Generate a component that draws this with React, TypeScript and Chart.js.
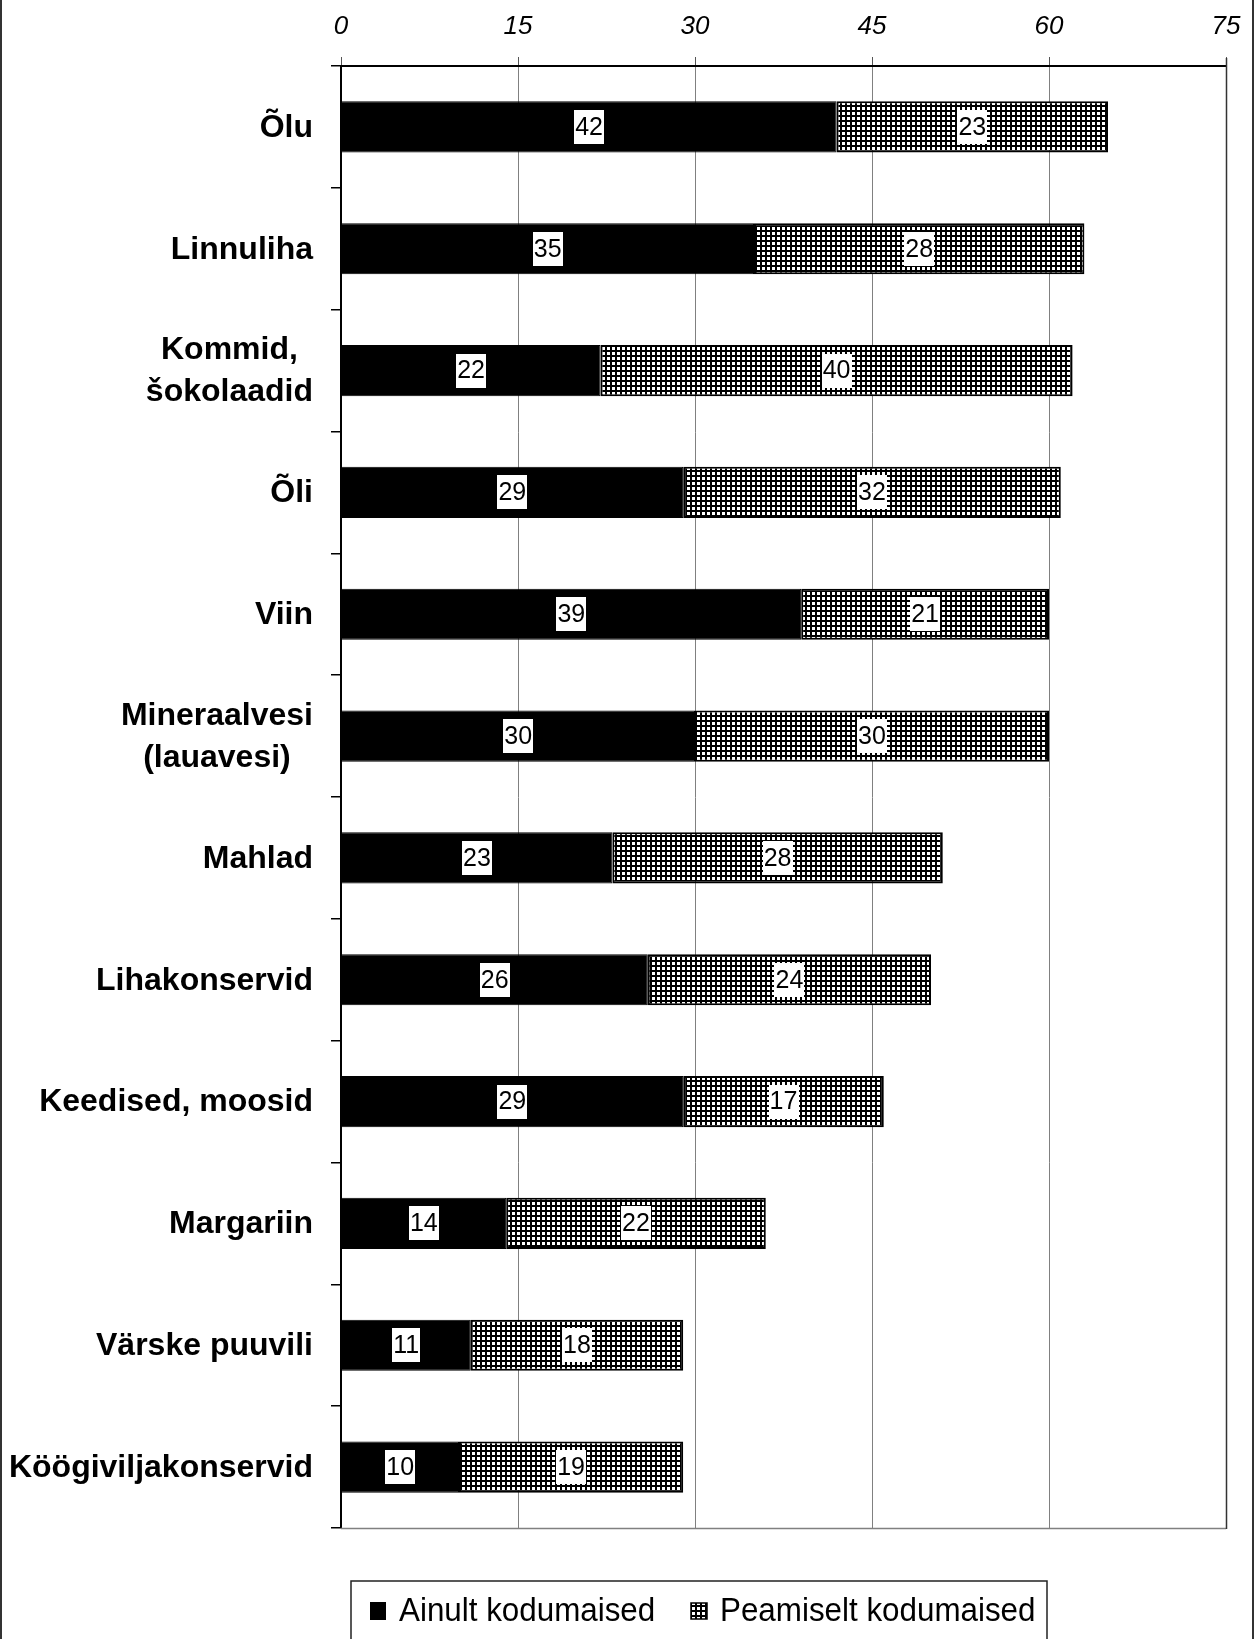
import React, { useEffect, useRef } from 'react';
import { Chart, registerables } from 'chart.js';

Chart.register(...registerables);

const categories: (string | string[])[] = [
  'Õlu',
  'Linnuliha',
  ['Kommid,', 'šokolaadid'],
  'Õli',
  'Viin',
  ['Mineraalvesi', '(lauavesi)'],
  'Mahlad',
  'Lihakonservid',
  'Keedised, moosid',
  'Margariin',
  'Värske puuvili',
  'Köögiviljakonservid',
];
const onlyDomestic = [42, 35, 22, 29, 39, 30, 23, 26, 29, 14, 11, 10];
const mainlyDomestic = [23, 28, 40, 32, 21, 30, 28, 24, 17, 22, 18, 19];
const seriesNames = ['Ainult kodumaised', 'Peamiselt kodumaised'];
const xTickValues = [0, 15, 30, 45, 60, 75];

const FONT = "'Liberation Sans', Arial, sans-serif";

function makePattern(ctx: CanvasRenderingContext2D): CanvasPattern | string {
  const c = document.createElement('canvas');
  c.width = 5;
  c.height = 5;
  const p = c.getContext('2d');
  if (!p) return '#888';
  p.fillStyle = '#fff';
  p.fillRect(0, 0, 5, 5);
  p.fillStyle = '#000';
  p.fillRect(0, 0, 5, 2);
  p.fillRect(0, 0, 2, 5);
  return ctx.createPattern(c, 'repeat') || '#888';
}

export default function App() {
  const ref = useRef<HTMLCanvasElement | null>(null);

  useEffect(() => {
    document.body.style.margin = '0';
    const canvas = ref.current;
    if (!canvas) return;
    const ctx = canvas.getContext('2d');
    if (!ctx) return;
    const pattern = makePattern(ctx);

    const decorPlugin = {
      id: 'decor',
      afterDatasetsDraw(chart: any) {
        const c = chart.ctx as CanvasRenderingContext2D;
        c.save();
        c.font = `25px ${FONT}`;
        c.textAlign = 'center';
        c.textBaseline = 'middle';
        chart.data.datasets.forEach((ds: any, di: number) => {
          const meta = chart.getDatasetMeta(di);
          meta.data.forEach((bar: any, i: number) => {
            const v = ds.data[i];
            const cx = (bar.x + bar.base) / 2;
            const cy = bar.y;
            const txt = String(v);
            const w = c.measureText(txt).width + 2;
            c.fillStyle = '#fff';
            c.fillRect(Math.round(cx - w / 2), Math.round(cy - 17), Math.round(w), 34);
            c.fillStyle = '#000';
            c.fillText(txt, cx, cy + 1);
          });
        });
        c.restore();
      },
      afterDraw(chart: any) {
        const c = chart.ctx as CanvasRenderingContext2D;
        const area = chart.chartArea;
        const yScale = chart.scales.y;
        c.save();
        // plot frame right & bottom
        c.strokeStyle = '#808080';
        c.lineWidth = 1.5;
        c.beginPath();
        c.moveTo(area.left, area.bottom + 0.5);
        c.lineTo(area.right, area.bottom + 0.5);
        c.stroke();
        c.strokeStyle = '#333';
        c.beginPath();
        c.moveTo(area.right + 0.5, area.top - 8);
        c.lineTo(area.right + 0.5, area.bottom + 1);
        c.stroke();

        // category labels
        c.font = `bold 32px ${FONT}`;
        c.fillStyle = '#000';
        c.textBaseline = 'middle';
        c.textAlign = 'center';
        const rightEdge = 313;
        const lineH = 42;
        categories.forEach((lab, i) => {
          const lines = Array.isArray(lab) ? lab : [lab];
          const maxW = Math.max(...lines.map((l) => c.measureText(l).width));
          const cx = rightEdge - maxW / 2;
          const cy = yScale.getPixelForValue(i);
          lines.forEach((l, k) => {
            const y = cy + (k - (lines.length - 1) / 2) * lineH + 1;
            c.fillText(l, cx, y);
          });
        });

        // legend
        const lx = 351, ly = 1581, lr = 1047;
        c.strokeStyle = '#222';
        c.lineWidth = 1.5;
        c.beginPath();
        c.moveTo(lx, 1660);
        c.lineTo(lx, ly);
        c.lineTo(lr, ly);
        c.lineTo(lr, 1660);
        c.stroke();
        const ty = 1611;
        c.fillStyle = '#000';
        c.fillRect(370, ty - 9, 16, 18);
        c.fillStyle = pattern as any;
        c.fillRect(691, ty - 8, 16, 16);
        c.strokeStyle = '#000';
        c.lineWidth = 1.5;
        c.strokeRect(691, ty - 8, 16, 16);
        c.fillStyle = '#000';
        c.textAlign = 'left';
        c.font = `32px ${FONT}`;
        c.save();
        c.translate(399, ty + 1);
        c.scale(0.98, 1.05);
        c.fillText(seriesNames[0], 0, 0);
        c.restore();
        c.save();
        c.translate(720, ty + 1);
        c.scale(0.98, 1.05);
        c.fillText(seriesNames[1], 0, 0);
        c.restore();

        // outer side borders
        c.strokeStyle = '#333';
        c.lineWidth = 2;
        c.beginPath();
        c.moveTo(1, 0);
        c.lineTo(1, chart.height);
        c.moveTo(1253, 0);
        c.lineTo(1253, chart.height);
        c.stroke();
        c.restore();
      },
    };

    const chart = new Chart(ctx, {
      type: 'bar',
      data: {
        labels: categories as any,
        datasets: [
          {
            label: seriesNames[0],
            data: onlyDomestic,
            backgroundColor: '#000',
            borderColor: '#000',
            borderWidth: 1,
            categoryPercentage: 1,
            barPercentage: 0.42,
          },
          {
            label: seriesNames[1],
            data: mainlyDomestic,
            backgroundColor: pattern as any,
            borderColor: '#000',
            borderWidth: 2,
            borderSkipped: false,
            categoryPercentage: 1,
            barPercentage: 0.42,
          },
        ],
      },
      options: {
        indexAxis: 'y',
        responsive: false,
        animation: false,
        layout: { padding: { top: 0, right: 28, bottom: 111, left: 0 } },
        plugins: { legend: { display: false }, tooltip: { enabled: false } },
        scales: {
          x: {
            type: 'linear',
            position: 'top',
            stacked: true,
            min: 0,
            max: 75,
            afterBuildTicks: (s: any) => {
              s.ticks = xTickValues.map((v) => ({ value: v }));
            },
            afterFit: (s: any) => {
              s.height = 66;
              s.paddingRight = 0;
              s.paddingLeft = 0;
            },
            ticks: {
              font: { family: FONT, size: 26, style: 'italic' },
              color: '#000',
              padding: 15,
              maxRotation: 0,
            },
            grid: {
              color: '#808080',
              lineWidth: 1,
              tickLength: 9,
              tickColor: '#555',
              drawOnChartArea: true,
            },
            border: { display: true, color: '#000', width: 2 },
          },
          y: {
            type: 'category',
            stacked: true,
            offset: true,
            afterFit: (s: any) => {
              s.width = 341;
            },
            ticks: { color: 'rgba(0,0,0,0)', font: { size: 10 } },
            grid: {
              offset: true,
              drawOnChartArea: false,
              tickLength: 10,
              tickColor: '#000',
              lineWidth: 1.5,
            },
            border: { display: true, color: '#000', width: 2 },
          },
        },
      },
      plugins: [decorPlugin],
    } as any);

    return () => chart.destroy();
  }, []);

  return (
    <div style={{ width: 1254, height: 1639, background: '#fff' }}>
      <canvas ref={ref} width={1254} height={1639} style={{ display: 'block' }} />
    </div>
  );
}
